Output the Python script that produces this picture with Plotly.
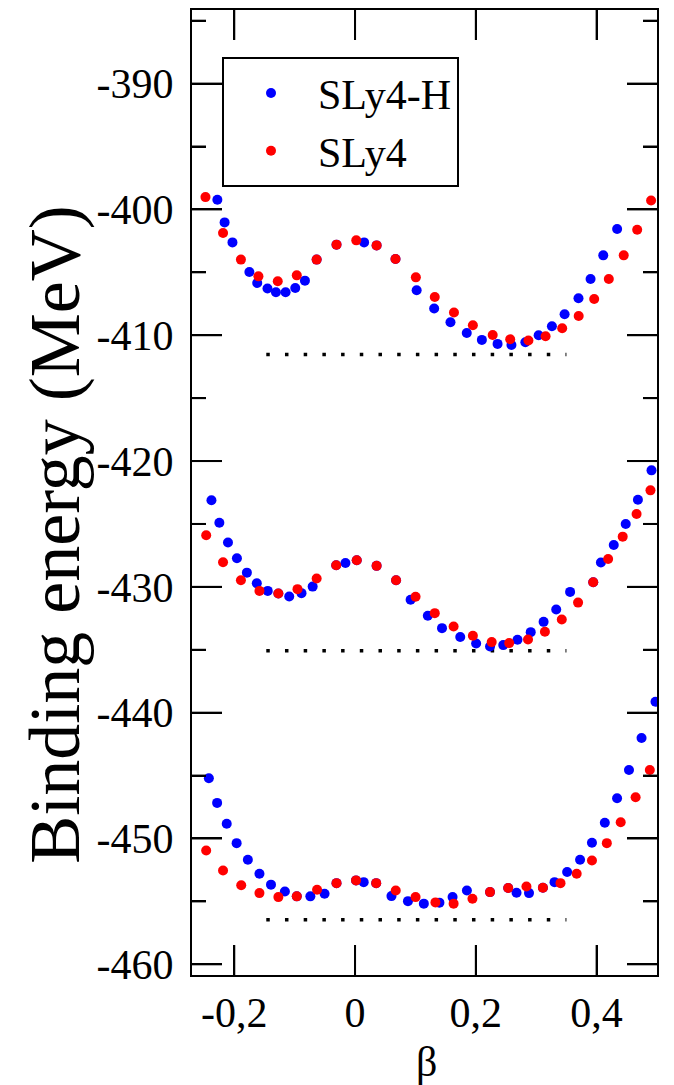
import plotly.graph_objects as go

# ---------------- data ----------------
# SLy4-H (blue)
beta_h_top = [-0.228, -0.216, -0.203, -0.175, -0.162, -0.145, -0.131, -0.115, -0.099, -0.083,
              -0.0636, -0.0307, 0.015, 0.0357, 0.067, 0.102, 0.131, 0.158, 0.185, 0.210,
              0.236, 0.259, 0.282, 0.304, 0.326, 0.347, 0.370, 0.390, 0.411, 0.434]
e_h_top = [-399.23, -401.03, -402.62, -404.98, -405.85, -406.29, -406.59, -406.59, -406.25, -405.66,
           -403.99, -402.80, -402.62, -402.86, -403.94, -406.43, -407.88, -408.97, -409.82, -410.37,
           -410.69, -410.77, -410.56, -410.00, -409.29, -408.33, -407.06, -405.53, -403.65, -401.56]

beta_h_mid = [-0.2378, -0.2247, -0.2104, -0.1956, -0.1791, -0.1627, -0.1446, -0.127, -0.109, -0.0887,
              -0.0702, -0.0312, -0.0159, 0.0028, 0.0357, 0.0679, 0.092, 0.1205, 0.144, 0.1742,
              0.2005, 0.2235, 0.2454, 0.269, 0.2909, 0.3122, 0.3331, 0.3561, 0.3944, 0.4071,
              0.4284, 0.4482, 0.4684, 0.4909]
e_h_mid = [-423.12, -424.90, -426.48, -427.72, -428.87, -429.71, -430.32, -430.53, -430.77, -430.50,
           -429.98, -428.28, -428.10, -427.88, -428.33, -429.47, -431.03, -432.30, -433.28, -433.99,
           -434.50, -434.74, -434.63, -434.21, -433.60, -432.78, -431.80, -430.40, -429.63, -428.07,
           -426.67, -425.00, -423.07, -420.74]

beta_h_bot = [-0.2421, -0.2284, -0.2125, -0.1961, -0.1775, -0.1583, -0.1392, -0.1162, -0.0965, -0.074,
              -0.0505, -0.0307, 0.0016, 0.0143, 0.035, 0.0603, 0.0876, 0.1139, 0.1397, 0.1615,
              0.1852, 0.2235, 0.2536, 0.2674, 0.2881, 0.3111, 0.3303, 0.3512, 0.3726, 0.3923,
              0.4136, 0.4339, 0.4536, 0.4744, 0.4975]
e_h_bot = [-445.21, -447.17, -448.83, -450.37, -451.69, -452.80, -453.67, -454.21, -454.60, -454.60,
           -454.39, -453.55, -453.33, -453.47, -453.55, -454.58, -454.98, -455.18, -455.10, -454.66,
           -454.13, -454.26, -453.94, -454.31, -454.34, -453.91, -453.47, -452.67, -451.69, -450.34,
           -448.75, -446.80, -444.55, -442.01, -439.13]

# SLy4 (red)
beta_s_top = [-0.2477, -0.2186, -0.189, -0.160, -0.128, -0.0965, -0.0636, -0.0307, 0.002, 0.0357,
              0.067, 0.1007, 0.132, 0.1638, 0.1951, 0.2279, 0.2569, 0.2871, 0.3155, 0.343,
              0.3703, 0.396, 0.4202, 0.4449, 0.4672, 0.4902]
e_s_top = [-399.02, -401.88, -403.99, -405.32, -405.71, -405.24, -403.99, -402.80, -402.46, -402.86,
           -403.94, -405.40, -406.96, -408.20, -409.21, -409.98, -410.32, -410.42, -410.08, -409.44,
           -408.47, -407.12, -405.53, -403.65, -401.61, -399.29]

beta_s_mid = [-0.2465, -0.2186, -0.189, -0.1583, -0.127, -0.0953, -0.0636, -0.0312, 0.0028, 0.0357,
              0.0679, 0.1002, 0.132, 0.1632, 0.1951, 0.2263, 0.2552, 0.2864, 0.3144, 0.3423,
              0.3693, 0.3944, 0.4191, 0.4432, 0.4662, 0.4892]
e_s_mid = [-425.90, -428.04, -429.47, -430.32, -430.53, -430.18, -429.34, -428.28, -427.88, -428.33,
           -429.47, -430.79, -432.09, -433.15, -433.89, -434.39, -434.47, -434.18, -433.57, -432.60,
           -431.25, -429.63, -427.78, -426.01, -424.21, -422.33]

beta_s_bot = [-0.2465, -0.2186, -0.1885, -0.1583, -0.127, -0.0965, -0.0629, -0.0307, 0.0016, 0.035,
              0.0674, 0.1002, 0.1331, 0.1632, 0.1944, 0.2235, 0.2536, 0.2838, 0.3111, 0.3402,
              0.367, 0.3923, 0.4169, 0.4399, 0.4646, 0.4881]
e_s_bot = [-450.95, -452.54, -453.71, -454.34, -454.66, -454.60, -454.07, -453.55, -453.33, -453.55,
           -454.13, -454.66, -455.08, -455.18, -454.79, -454.26, -453.94, -453.81, -453.91, -453.55,
           -452.80, -451.75, -450.37, -448.71, -446.72, -444.55]

# dotted reference levels
ref_beta = [-0.147, 0.35]
ref_levels = [-411.53, -435.08, -456.45]

x_tickvals = [-0.2, 0, 0.2, 0.4]
x_ticktext = ["-0,2", "0", "0,2", "0,4"]
y_tickvals = [-460, -450, -440, -430, -420, -410, -400, -390]
y_ticktext = ["-460", "-450", "-440", "-430", "-420", "-410", "-400", "-390"]
y_minor_tickvals = [-455, -445, -435, -425, -415, -405, -395, -385]

FONT = "Liberation Serif"
PLOT_W, PLOT_H = 465, 967          # plot area in px (for tick lengths)
MAJOR_LEN, MINOR_LEN = 30, 14

fig = go.Figure()

for lvl in ref_levels:
    fig.add_trace(go.Scatter(
        x=ref_beta, y=[lvl, lvl], mode="lines", showlegend=False, hoverinfo="skip",
        line=dict(color="black", width=3.5, dash="3.5px,15.2px")))

fig.add_trace(go.Scatter(
    x=beta_h_top + beta_h_mid + beta_h_bot,
    y=e_h_top + e_h_mid + e_h_bot,
    mode="markers", name="SLy4-H",
    marker=dict(color="#0000ff", size=10)))

fig.add_trace(go.Scatter(
    x=beta_s_top + beta_s_mid + beta_s_bot,
    y=e_s_top + e_s_mid + e_s_bot,
    mode="markers", name="SLy4",
    marker=dict(color="#ff0000", size=10)))

fig.update_xaxes(range=[-0.27, 0.5], showline=True, linecolor="black", linewidth=2, mirror="ticks",
                 ticks="inside", tickcolor="black", tickwidth=2, ticklen=MAJOR_LEN, showgrid=False,
                 tickmode="array", tickvals=x_tickvals, ticktext=x_ticktext,
                 tickfont=dict(family=FONT, size=42, color="black"))
fig.update_yaxes(range=[-460.85, -384.15], showline=True, linecolor="black", linewidth=2,
                 mirror="ticks", ticks="inside", tickcolor="black", tickwidth=2, ticklen=MAJOR_LEN,
                 tickmode="array", tickvals=y_tickvals, ticktext=y_ticktext,
                 showgrid=False, zeroline=False,
                 minor=dict(dtick=5, ticks="inside", ticklen=MINOR_LEN, tickwidth=2, tickcolor="black"),
                 ticklabelstandoff=8, tickfont=dict(family=FONT, size=42, color="black"))

# tick marks on all four sides (drawn through the axes' own scales)
tick_line = dict(color="black", width=2)
fx, fy = MAJOR_LEN / PLOT_H, MAJOR_LEN / PLOT_W
for v in x_tickvals:
    fig.add_shape(type="line", xref="x", yref="paper", x0=v, x1=v, y0=0, y1=fx, line=tick_line)
    fig.add_shape(type="line", xref="x", yref="paper", x0=v, x1=v, y0=1, y1=1 - fx, line=tick_line)
for v in y_tickvals:
    fig.add_shape(type="line", xref="paper", yref="y", y0=v, y1=v, x0=0, x1=fy, line=tick_line)
    fig.add_shape(type="line", xref="paper", yref="y", y0=v, y1=v, x0=1, x1=1 - fy, line=tick_line)
for v in y_minor_tickvals:
    m = MINOR_LEN / PLOT_W
    fig.add_shape(type="line", xref="paper", yref="y", y0=v, y1=v, x0=0, x1=m, line=tick_line)
    fig.add_shape(type="line", xref="paper", yref="y", y0=v, y1=v, x0=1, x1=1 - m, line=tick_line)

fig.add_annotation(text="Binding energy (MeV)", xref="paper", yref="paper",
                   x=-0.295, y=0.457, textangle=-90, showarrow=False,
                   xanchor="center", yanchor="middle",
                   font=dict(family=FONT, size=72, color="black"))
fig.add_annotation(text="β", xref="paper", yref="paper",
                   x=0.505, y=-0.09, showarrow=False, xanchor="center", yanchor="middle",
                   font=dict(family=FONT, size=42, color="black"))

fig.update_layout(
    width=674, height=1085,
    margin=dict(l=192, r=17, t=8, b=110),
    plot_bgcolor="white", paper_bgcolor="white",
    legend=dict(x=0.0645, y=0.951, xanchor="left", yanchor="top",
                bgcolor="white", bordercolor="black", borderwidth=2,
                font=dict(family=FONT, size=42, color="black"),
                itemwidth=84, tracegroupgap=0),
)

fig.write_html("out.html")
